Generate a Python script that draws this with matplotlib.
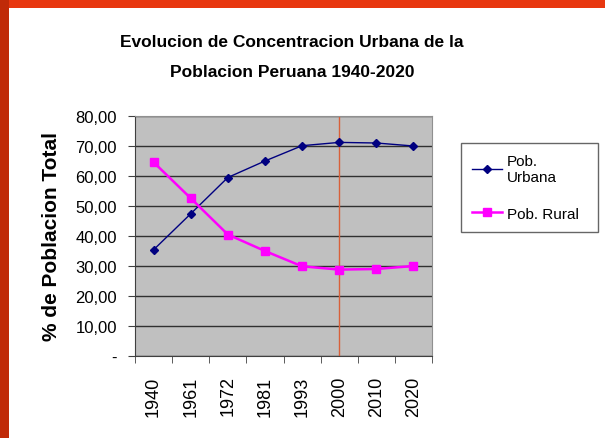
import matplotlib
matplotlib.use('Agg')
import matplotlib.pyplot as plt
from matplotlib.patches import Rectangle

years = ['1940', '1961', '1972', '1981', '1993', '2000', '2010', '2020']
urbana = [35.4, 47.4, 59.5, 65.0, 70.1, 71.2, 71.0, 70.0]
rural = [64.6, 52.6, 40.5, 35.0, 29.9, 28.8, 29.0, 30.0]
y_ticks = [0, 10, 20, 30, 40, 50, 60, 70, 80]
y_labels = ['-', '10,00', '20,00', '30,00', '40,00', '50,00', '60,00', '70,00', '80,00']
marked_year = '2000'

plt.rcParams['font.family'] = ['Liberation Sans', 'DejaVu Sans']

fig = plt.figure(figsize=(6.05, 4.39), dpi=100)
fig.patch.set_facecolor('white')

# red frame on top and left edge
fig.patches.append(Rectangle((0, 1 - 9 / 439), 1, 9 / 439, transform=fig.transFigure,
                             facecolor='#e8370f', edgecolor='none', zorder=0))
fig.patches.append(Rectangle((0, 0), 9 / 605, 1, transform=fig.transFigure,
                             facecolor='#c02a08', edgecolor='none', zorder=0))

ax = fig.add_axes([135 / 605, 82 / 439, 297 / 605, 240 / 439])
ax.set_facecolor('#c0c0c0')

x = list(range(len(years)))
ax.plot(x, urbana, color='#000080', lw=1.0, marker='D', ms=4.5, label='Pob.\nUrbana', zorder=3)
ax.plot(x, rural, color='#ff00ff', lw=1.8, marker='s', ms=6, label='Pob. Rural', zorder=3)

ax.axvline(years.index(marked_year), color='#d8603a', lw=1.0, zorder=2)

ax.set_xlim(-0.5, len(years) - 0.5)
ax.set_ylim(0, 80)
ax.set_yticks(y_ticks)
ax.set_yticklabels(y_labels, fontsize=12)
ax.yaxis.grid(True, color='#303030', lw=1.0)
ax.set_axisbelow(True)

ax.set_xticks(x)
ax.set_xticklabels(years, rotation=90, fontsize=13)
ax.tick_params(axis='x', length=0, pad=14)
ax.set_xticks([i + 0.5 for i in range(-1, len(years))], minor=True)
ax.tick_params(axis='x', which='minor', length=5, color='#404040')
ax.tick_params(axis='y', length=5, color='#404040', pad=8)

for side in ['top', 'right']:
    ax.spines[side].set_color('#909090')
for side in ['left', 'bottom']:
    ax.spines[side].set_color('#404040')

ax.set_ylabel('% de Poblacion Total', fontsize=15, fontweight='bold', labelpad=10)

fig.text(0.483, 0.903, 'Evolucion de Concentracion Urbana de la', ha='center', va='center',
         fontsize=12.5, fontweight='bold')
fig.text(0.483, 0.835, 'Poblacion Peruana 1940-2020', ha='center', va='center',
         fontsize=12.5, fontweight='bold')

leg = ax.legend(loc='upper left', bbox_to_anchor=(461 / 605, 1 - 266 / 439, 137 / 605, 122 / 439),
                bbox_transform=fig.transFigure, mode='expand', fontsize=11, frameon=True,
                fancybox=False, edgecolor='#404040', borderpad=0.7, handlelength=2.0,
                labelspacing=1.5, handletextpad=0.3, borderaxespad=0)
leg.get_frame().set_linewidth(1.0)

fig.savefig('out.png', dpi=100)
